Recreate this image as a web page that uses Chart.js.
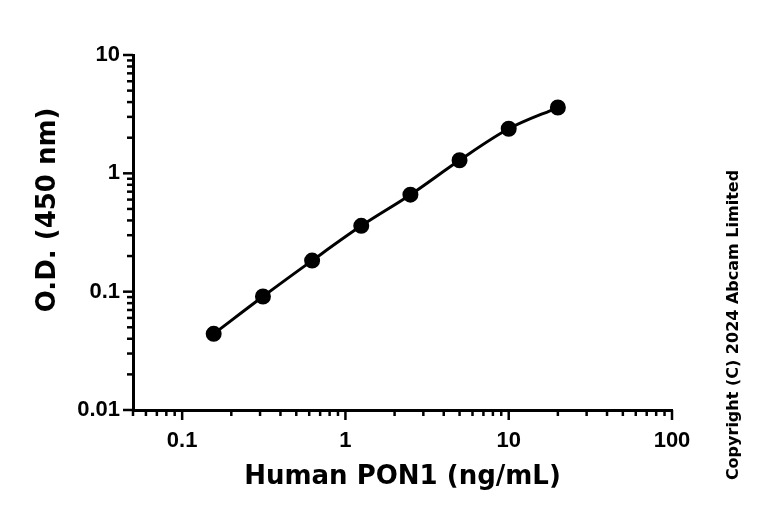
<!DOCTYPE html>
<html>
<head>
<meta charset="utf-8">
<script src="https://cdn.jsdelivr.net/npm/chart.js@4"></script>
<style>
html, body { margin: 0; padding: 0; background: #fff; }
#wrap { width: 768px; height: 518px; }
</style>
</head>
<body>
<div id="wrap"><canvas id="stdCurve"></canvas></div>
<script>
// concentrations (ng/mL) and O.D.
const conc = [0.156, 0.3125, 0.625, 1.25, 2.5, 5, 10, 20];
const od = [0.044, 0.091, 0.183, 0.36, 0.66, 1.29, 2.38, 3.6];

const xTickLabels = [0.1, 1, 10, 100];
const yTickLabels = [0.01, 0.1, 1, 10];

const labelFont = { family: "'Liberation Sans', Arial", size: 22, weight: 'bold' };
const titleFont = { family: "'DejaVu Sans', 'Liberation Sans', Arial", size: 26, weight: 'bold' };

// log minor ticks 2..9 of each decade inside a range
function decadeTicks(min, max) {
  const out = [];
  for (let e = -3; e <= 3; e++) {
    for (let m = 1; m <= 9; m++) {
      const v = m * Math.pow(10, e);
      if (v >= min * 0.999 && v <= max * 1.001) out.push({ v: v, major: m === 1 });
    }
  }
  return out;
}

const tickMarks = {
  id: 'tickMarks',
  afterDraw(chart) {
    const ctx = chart.ctx;
    const xs = chart.scales.x, ys = chart.scales.y;
    ctx.save();
    ctx.strokeStyle = '#000';
    ctx.lineWidth = 2.5;
    decadeTicks(xs.min, xs.max).forEach(t => {
      const px = xs.getPixelForValue(t.v);
      const len = t.major ? 10 : 6;
      ctx.beginPath();
      ctx.moveTo(px, xs.top);
      ctx.lineTo(px, xs.top + len);
      ctx.stroke();
    });
    decadeTicks(ys.min, ys.max).forEach(t => {
      const py = ys.getPixelForValue(t.v);
      const len = t.major ? 10 : 6;
      ctx.beginPath();
      ctx.moveTo(ys.right, py);
      ctx.lineTo(ys.right - len, py);
      ctx.stroke();
    });
    // copyright note on the right
    ctx.translate(734, 325);
    ctx.rotate(-Math.PI / 2);
    ctx.fillStyle = '#000';
    ctx.font = "bold 16px 'DejaVu Sans', Arial";
    ctx.textAlign = 'center';
    ctx.textBaseline = 'middle';
    ctx.fillText('Copyright (C) 2024 Abcam Limited', 0, 0);
    ctx.restore();
  }
};

new Chart(document.getElementById('stdCurve'), {
  type: 'line',
  data: {
    datasets: [{
      data: conc.map((c, i) => ({ x: c, y: od[i] })),
      borderColor: '#000',
      backgroundColor: '#000',
      borderWidth: 3,
      pointRadius: 6.5,
      pointHoverRadius: 6.5,
      cubicInterpolationMode: 'monotone',
      fill: false
    }]
  },
  options: {
    responsive: true,
    maintainAspectRatio: false,
    animation: false,
    layout: { padding: { top: 55, right: 96, bottom: 0, left: 0 } },
    plugins: { legend: { display: false }, tooltip: { enabled: false } },
    scales: {
      x: {
        type: 'logarithmic',
        min: 0.05,
        max: 100,
        afterFit: s => { s.height = 108; },
        afterBuildTicks: s => { s.ticks = xTickLabels.map(v => ({ value: v })); },
        grid: { display: true, drawOnChartArea: false, drawTicks: false },
        border: { display: true, color: '#000', width: 3 },
        ticks: {
          color: '#000', font: labelFont, padding: 18, maxRotation: 0, autoSkip: false,
          callback: v => String(v)
        },
        title: { display: true, text: 'Human PON1 (ng/mL)', color: '#000', font: titleFont, padding: { bottom: 25 } }
      },
      y: {
        type: 'logarithmic',
        min: 0.01,
        max: 10,
        afterFit: s => { s.width = 133; },
        afterBuildTicks: s => { s.ticks = yTickLabels.map(v => ({ value: v })); },
        grid: { display: true, drawOnChartArea: false, drawTicks: false },
        border: { display: true, color: '#000', width: 3 },
        ticks: {
          color: '#000', font: labelFont, padding: 13, autoSkip: false,
          callback: v => String(v)
        },
        // leading spaces nudge the rotated title up, as in the reference
        title: { display: true, text: '     O.D. (450 nm)', color: '#000', font: titleFont, padding: { top: 33 } }
      }
    }
  },
  plugins: [tickMarks]
});
</script>
</body>
</html>
